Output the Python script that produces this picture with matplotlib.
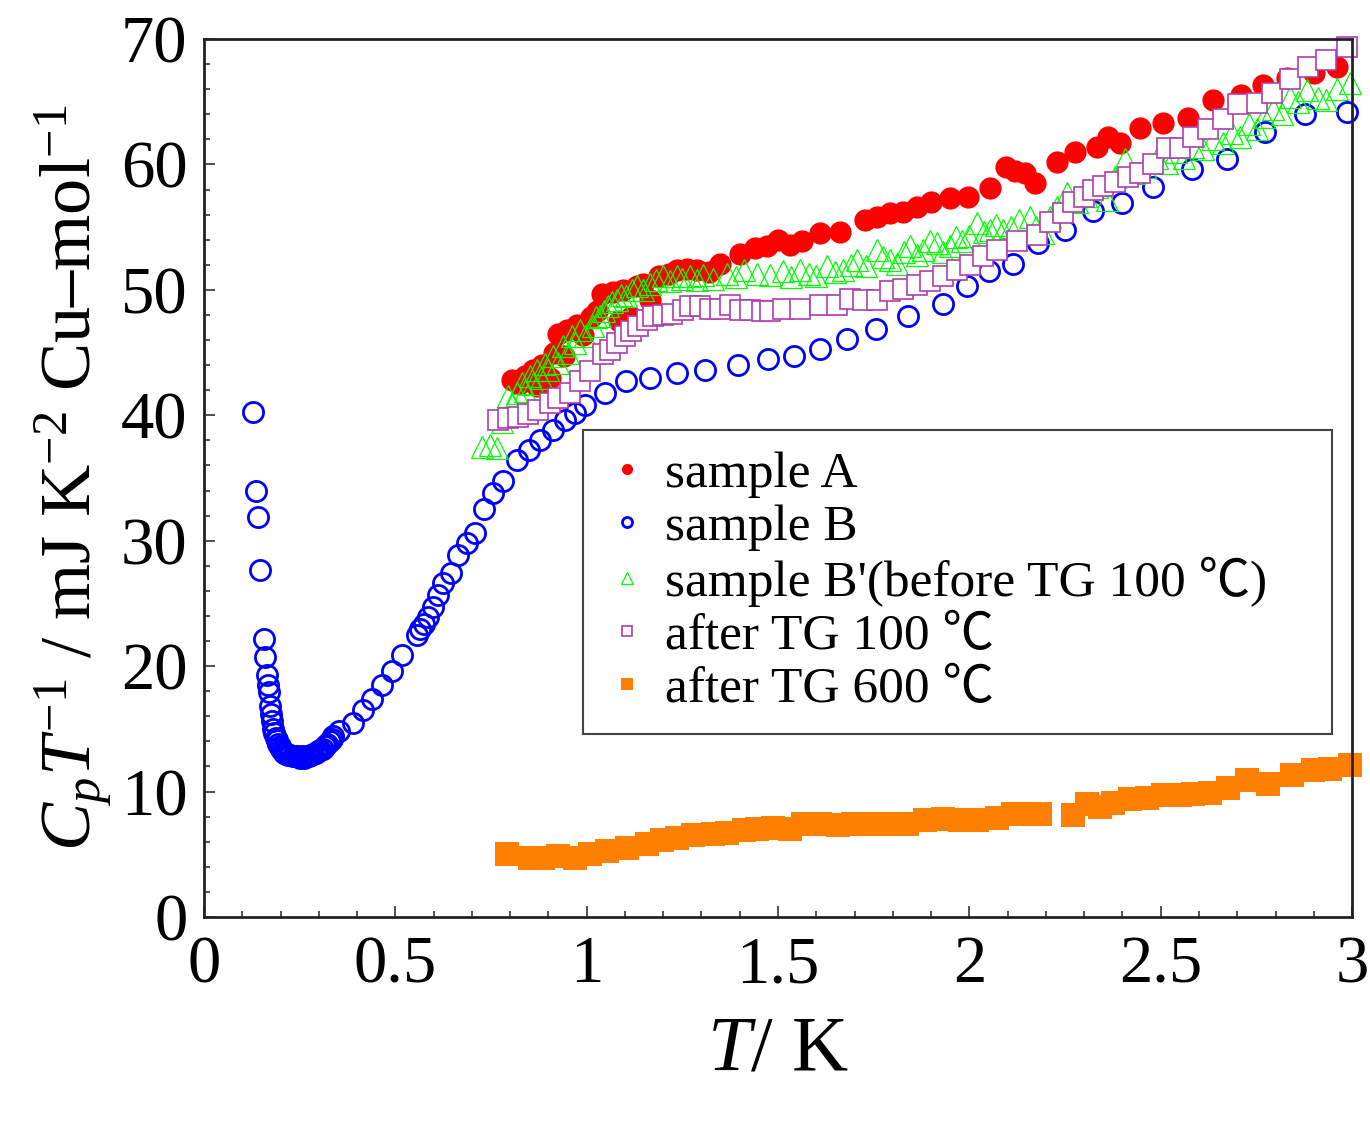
import numpy as np
import matplotlib
matplotlib.use('Agg')
from matplotlib import pyplot as plt
from matplotlib.ticker import MultipleLocator, FuncFormatter

plt.rcParams['font.family'] = ['Liberation Serif', 'Noto Sans CJK JP', 'DejaVu Serif']
plt.rcParams['mathtext.fontset'] = 'custom'
plt.rcParams['mathtext.rm'] = 'Liberation Serif'
plt.rcParams['mathtext.it'] = 'Liberation Serif:italic'

# sample A
a_T = [0.804, 0.822, 0.839, 0.860, 0.870, 0.882, 0.895, 0.905, 0.915, 0.926, 0.940, 0.948,
       0.974, 0.990, 1.010, 1.026, 1.039, 1.069, 1.085, 1.096, 1.117, 1.131, 1.148, 1.165,
       1.190, 1.215, 1.235, 1.261, 1.287, 1.320, 1.348, 1.400, 1.440, 1.470, 1.500, 1.530,
       1.562, 1.610, 1.662, 1.727, 1.758, 1.792, 1.826, 1.862, 1.901, 1.949, 1.997, 2.054,
       2.097, 2.120, 2.145, 2.171, 2.228, 2.276, 2.333, 2.363, 2.394, 2.446, 2.507, 2.572,
       2.637, 2.711, 2.768, 2.829, 2.900, 2.960]
a_C = [42.8, 42.5, 43.1, 43.6, 42.3, 44.0, 42.6, 43.0, 45.0, 46.5, 44.7, 46.8,
       47.2, 46.4, 47.8, 48.3, 49.7, 49.8, 47.5, 50.0, 47.8, 50.3, 50.5, 49.2,
       51.1, 51.3, 51.6, 51.7, 51.6, 51.4, 52.1, 52.9, 53.3, 53.5, 54.0, 53.6,
       53.9, 54.5, 54.6, 55.6, 55.8, 56.1, 56.2, 56.6, 57.0, 57.3, 57.4, 58.1,
       59.8, 59.5, 59.3, 58.5, 60.2, 61.0, 61.4, 62.2, 61.7, 62.9, 63.3, 63.7,
       65.1, 65.5, 66.3, 66.9, 67.3, 67.8]

# sample B
b_T = [0.128, 0.136, 0.141, 0.146, 0.157, 0.159, 0.164, 0.167, 0.170, 0.172, 0.175, 0.178,
       0.181, 0.184, 0.187, 0.190, 0.194, 0.198, 0.202, 0.206, 0.210, 0.215, 0.220, 0.226,
       0.232, 0.238, 0.244, 0.250, 0.256, 0.262, 0.268, 0.274, 0.280, 0.286, 0.292, 0.298,
       0.304, 0.310, 0.316, 0.322, 0.328, 0.334, 0.338, 0.352, 0.390, 0.416, 0.438, 0.464,
       0.490, 0.518, 0.556, 0.564, 0.575, 0.585, 0.599, 0.611, 0.625, 0.645, 0.665, 0.686,
       0.708, 0.732, 0.754, 0.782, 0.817, 0.848, 0.878, 0.913, 0.943, 0.969, 0.996, 1.048,
       1.104, 1.165, 1.235, 1.309, 1.396, 1.474, 1.543, 1.610, 1.679, 1.756, 1.840, 1.930,
       1.995, 2.052, 2.115, 2.180, 2.250, 2.324, 2.400, 2.481, 2.583, 2.672, 2.772, 2.877,
       2.986]
b_C = [40.3, 34.0, 31.9, 27.7, 22.2, 20.7, 19.3, 18.5, 17.9, 16.8, 16.2, 15.6,
       15.0, 14.7, 14.3, 14.1, 13.8, 13.6, 13.4, 13.2, 13.1, 13.0, 12.9, 12.9,
       12.8, 12.8, 12.8, 12.7, 12.8, 12.7, 12.8, 12.8, 12.9, 13.0, 13.1, 13.2,
       13.3, 13.4, 13.6, 13.8, 14.0, 14.2, 14.4, 14.8, 15.5, 16.5, 17.4, 18.5,
       19.6, 20.9, 22.5, 23.0, 23.4, 23.9, 24.7, 25.7, 26.6, 27.4, 28.9, 29.8,
       30.6, 32.5, 33.8, 34.8, 36.4, 37.2, 38.0, 38.8, 39.6, 40.2, 40.8, 41.8,
       42.7, 43.0, 43.4, 43.6, 44.0, 44.5, 44.7, 45.3, 46.1, 46.9, 47.9, 48.9,
       50.3, 51.5, 52.1, 53.7, 54.8, 56.3, 56.9, 58.2, 59.6, 60.4, 62.6, 64.0,
       64.2]

# sample B' (before TG 100 C)
bp_T = [0.726, 0.747, 0.765, 0.780, 0.795, 0.805, 0.817, 0.830, 0.840, 0.852, 0.860, 0.869,
        0.880, 0.891, 0.900, 0.913, 0.925, 0.939, 0.950, 0.961, 0.970, 0.982, 0.995, 1.017,
        1.025, 1.035, 1.046, 1.057, 1.067, 1.078, 1.090, 1.104, 1.118, 1.131, 1.148, 1.165,
        1.180, 1.200, 1.218, 1.235, 1.250, 1.270, 1.287, 1.305, 1.330, 1.366, 1.390, 1.410,
        1.444, 1.479, 1.514, 1.535, 1.557, 1.580, 1.600, 1.627, 1.650, 1.671, 1.690, 1.706,
        1.730, 1.758, 1.775, 1.792, 1.810, 1.828, 1.845, 1.862, 1.880, 1.898, 1.915, 1.932,
        1.949, 1.965, 1.980, 2.000, 2.020, 2.037, 2.054, 2.070, 2.089, 2.110, 2.130, 2.158,
        2.175, 2.193, 2.210, 2.230, 2.254, 2.280, 2.305, 2.333, 2.360, 2.380, 2.406, 2.430,
        2.460, 2.490, 2.516, 2.540, 2.560, 2.585, 2.611, 2.637, 2.663, 2.685, 2.707, 2.730,
        2.751, 2.770, 2.794, 2.816, 2.838, 2.860, 2.881, 2.910, 2.933, 2.960, 2.994]
bp_C = [37.5, 37.6, 37.4, 39.5, 41.5, 40.8, 41.8, 42.6, 41.9, 43.1, 42.5, 43.6,
        43.0, 44.1, 43.6, 44.7, 44.2, 45.5, 45.0, 46.3, 45.8, 46.8, 46.3, 47.1,
        47.8, 47.9, 48.3, 48.7, 49.0, 49.2, 49.6, 49.5, 50.0, 50.3, 50.0, 50.5,
        50.8, 51.1, 50.7, 51.1, 50.9, 51.1, 50.8, 51.2, 50.9, 51.3, 51.0, 51.6,
        51.3, 51.2, 51.5, 51.0, 51.6, 51.3, 51.1, 51.9, 51.4, 51.6, 52.0, 52.4,
        51.9, 53.2, 52.6, 52.4, 52.1, 53.0, 53.5, 52.8, 53.2, 53.9, 53.7, 53.0,
        53.5, 54.2, 53.9, 54.3, 55.3, 54.6, 54.8, 55.2, 54.8, 55.0, 55.6, 55.8,
        55.0, 54.5, 55.8, 56.6, 57.7, 57.0, 57.5, 58.2, 57.2, 59.0, 60.4, 59.3,
        59.8, 60.5, 60.1, 61.0, 60.5, 61.4, 61.2, 62.0, 61.7, 62.5, 62.2, 63.2,
        62.8, 63.8, 64.4, 64.0, 65.4, 65.0, 65.9, 65.3, 65.1, 66.0, 66.5]

# after TG 100 C
tg100_T = [0.769, 0.795, 0.821, 0.847, 0.874, 0.904, 0.926, 0.956, 0.982, 1.009, 1.043, 1.061,
           1.080, 1.100, 1.117, 1.135, 1.157, 1.174, 1.200, 1.222, 1.252, 1.270, 1.296, 1.322,
           1.348, 1.374, 1.400, 1.427, 1.457, 1.480, 1.514, 1.557, 1.610, 1.653, 1.688, 1.723,
           1.758, 1.792, 1.827, 1.862, 1.897, 1.932, 1.967, 2.001, 2.036, 2.071, 2.124, 2.176,
           2.210, 2.245, 2.272, 2.300, 2.324, 2.350, 2.381, 2.415, 2.446, 2.481, 2.516, 2.550,
           2.585, 2.624, 2.663, 2.703, 2.751, 2.790, 2.838, 2.886, 2.933, 2.986]
tg100_C = [39.6, 39.8, 39.9, 40.1, 40.4, 41.0, 41.4, 41.8, 42.7, 43.5, 44.9, 45.2,
           45.8, 46.3, 46.7, 47.1, 47.6, 47.9, 48.0, 48.1, 48.4, 48.7, 48.7, 48.5,
           48.5, 48.8, 48.4, 48.4, 48.3, 48.3, 48.5, 48.5, 48.8, 48.8, 49.3, 49.2,
           49.2, 49.9, 50.1, 50.4, 50.7, 51.1, 51.6, 52.0, 52.7, 53.2, 53.9, 54.4,
           55.4, 56.1, 57.0, 57.4, 58.0, 58.3, 58.6, 59.0, 59.3, 60.0, 61.3, 61.3,
           62.2, 62.8, 63.6, 64.8, 64.9, 65.7, 66.8, 67.8, 68.3, 69.4]

# after TG 600 C
tg600_T = [0.793, 0.852, 0.887, 0.926, 0.969, 1.009, 1.052, 1.105, 1.157, 1.196, 1.235, 1.279,
           1.331, 1.366, 1.410, 1.444, 1.488, 1.531, 1.566, 1.610, 1.657, 1.697, 1.749, 1.790,
           1.836, 1.884, 1.932, 1.975, 2.019, 2.071, 2.115, 2.158, 2.185, 2.272, 2.307, 2.341,
           2.376, 2.420, 2.463, 2.507, 2.550, 2.585, 2.629, 2.677, 2.725, 2.781, 2.842, 2.898,
           2.942, 2.994]
tg600_C = [5.0, 4.7, 4.7, 4.9, 4.7, 5.0, 5.3, 5.5, 5.8, 6.1, 6.3, 6.5,
           6.6, 6.7, 6.9, 7.0, 7.1, 7.0, 7.4, 7.4, 7.3, 7.4, 7.4, 7.4,
           7.4, 7.7, 7.8, 7.7, 7.7, 7.9, 8.2, 8.2, 8.2, 8.1, 9.0, 8.8,
           9.1, 9.4, 9.5, 9.7, 9.7, 9.8, 9.9, 10.3, 10.9, 10.6, 11.3, 11.7,
           11.8, 12.1]

fig = plt.figure(figsize=(13.7, 11.25), dpi=100)
ax = fig.add_axes([0.1489, 0.1849, 0.838, 0.7804])

ax.plot(a_T, a_C, 'o', color='red', ms=16, mec='red', mew=0, clip_on=False, label='sample A')
ax.plot(b_T, b_C, 'o', color='blue', ms=14.5, mfc='none', mec='blue', mew=2.0, clip_on=False, label='sample B')
ax.plot(bp_T, bp_C, '^', color='#00ff00', ms=16, mfc='none', mec='#00ff00', mew=0.9, clip_on=False,
        label="sample B'(before TG 100 \u2103)")
ax.plot(tg100_T, tg100_C, 's', color='#b03cb0', ms=15, mfc='white', mec='#b03cb0', mew=1.2, clip_on=False,
        label='after TG 100 \u2103')
ax.plot(tg600_T, tg600_C, 's', color='#ff8000', ms=17, mec='#ff8000', mew=0, clip_on=False,
        label='after TG 600 \u2103')

ax.set_xlim(0, 3)
ax.set_ylim(0, 70)
ax.xaxis.set_major_locator(MultipleLocator(0.5))
ax.xaxis.set_minor_locator(MultipleLocator(0.1))
ax.yaxis.set_major_locator(MultipleLocator(10))
ax.yaxis.set_minor_locator(MultipleLocator(2))
ax.xaxis.set_major_formatter(FuncFormatter(lambda v, p: '%g' % v))
ax.tick_params(which='both', direction='in', top=False, right=False, labelsize=48, width=1.2, color='#333333')
ax.tick_params(which='major', length=8)
ax.tick_params(which='minor', length=4)
ax.tick_params(axis='x', pad=13)
ax.tick_params(axis='y', pad=12)
for s in ax.spines.values():
    s.set_linewidth(2)
    s.set_color('#222222')

ax.set_xlabel('$T$/ K', fontsize=56, labelpad=14)
ax.set_ylabel('$C_pT^{-1}$ / mJ K$^{-2}$ Cu\u2013mol$^{-1}$', fontsize=52, labelpad=4)

leg = ax.legend(loc='upper left', bbox_to_anchor=(0.330, 0.4547, 0.6524, 0.1), mode='expand',
                borderaxespad=0, fontsize=37, markerscale=0.5, handlelength=0.9,
                handletextpad=0.3, labelspacing=0.12, borderpad=0.4, frameon=True, fancybox=False,
                framealpha=1)
leg.get_frame().set_edgecolor('#444444')
leg.get_frame().set_linewidth(1.5)
leg.set_zorder(5)

plt.savefig('out.png', dpi=100)
